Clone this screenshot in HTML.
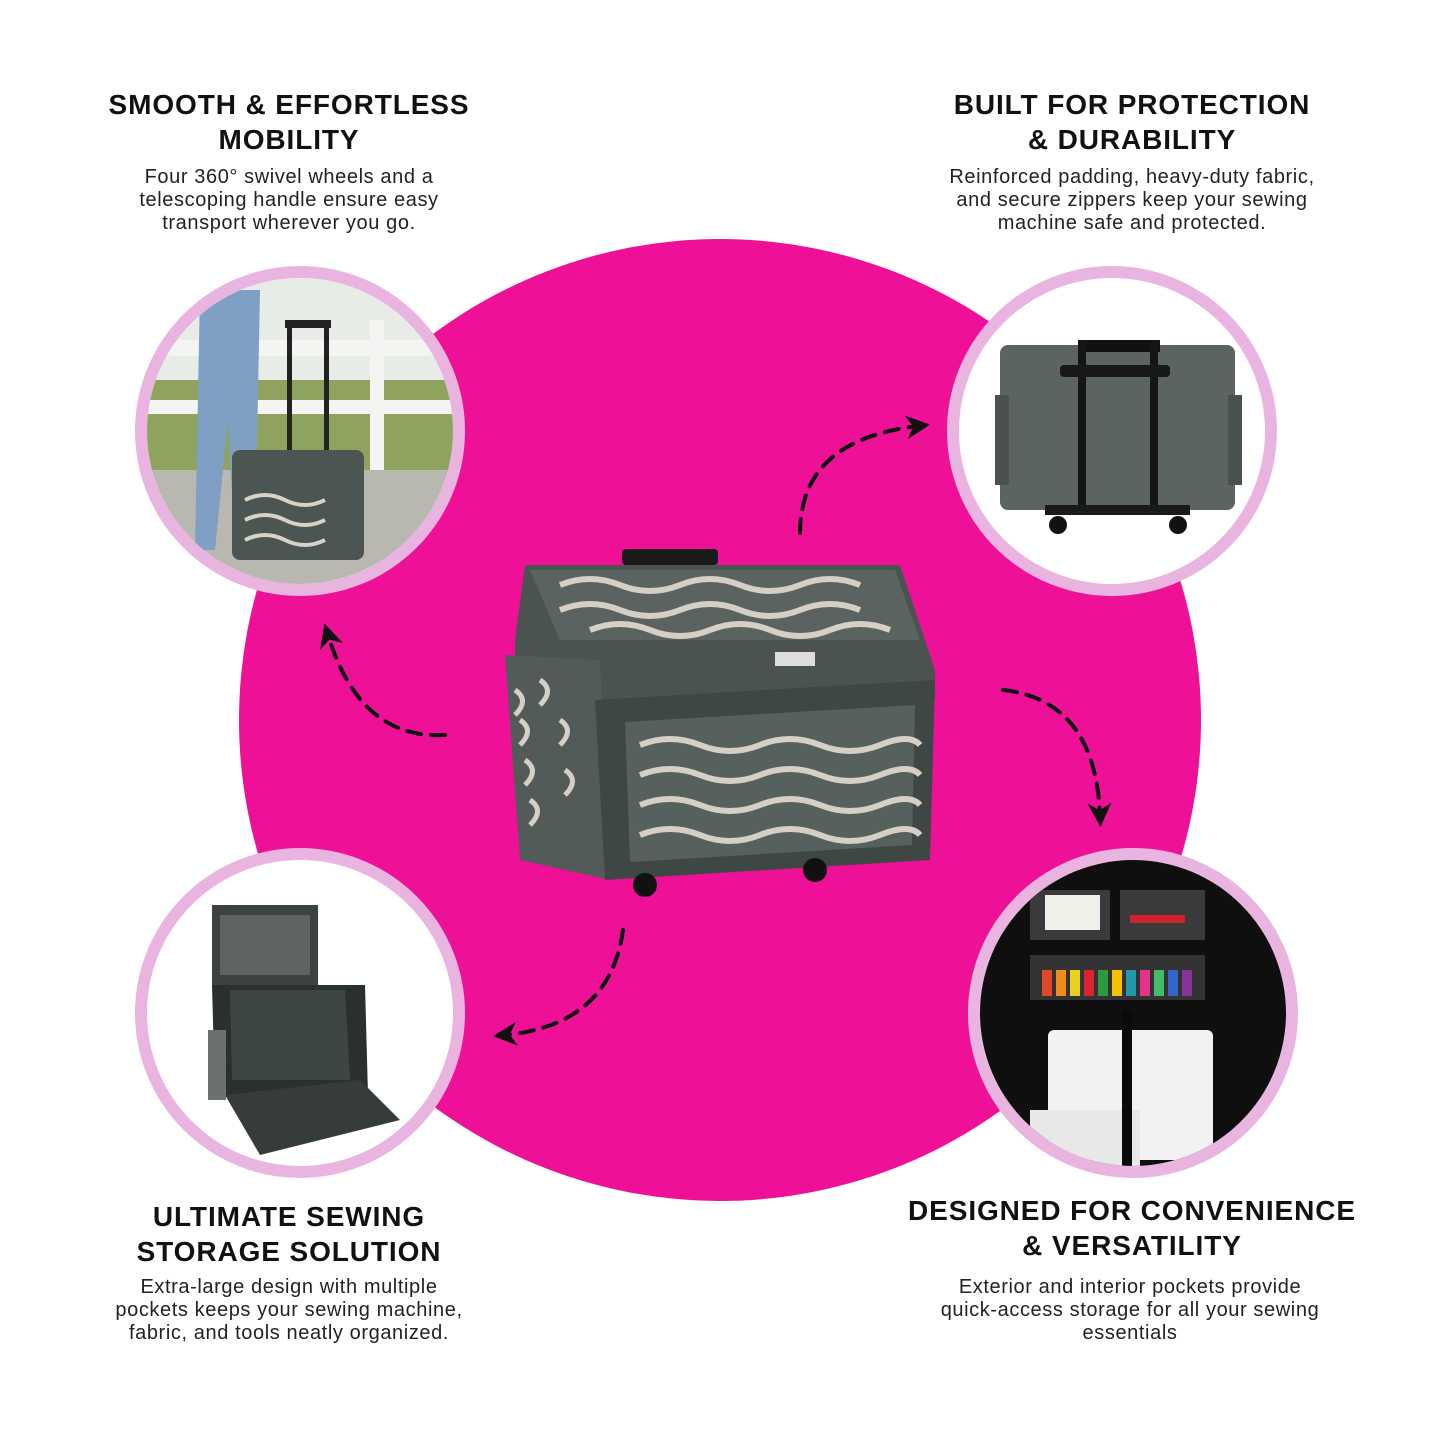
<!DOCTYPE html>
<html><head><meta charset="utf-8"><style>
html,body{margin:0;padding:0;background:#fff;}
body{width:1440px;height:1440px;position:relative;overflow:hidden;font-family:"Liberation Sans",sans-serif;color:#111;}
.h{position:absolute;text-align:center;font-weight:bold;font-size:28px;line-height:35px;letter-spacing:0.9px;}
.p{position:absolute;text-align:center;font-size:20px;line-height:23px;color:#222;letter-spacing:0.6px;}
</style></head><body>
<svg width="1440" height="1440" style="position:absolute;left:0;top:0">
<defs>
<clipPath id="c1"><circle cx="300" cy="431" r="153"/></clipPath>
<clipPath id="c2"><circle cx="1112" cy="431" r="153"/></clipPath>
<clipPath id="c3"><circle cx="300" cy="1013" r="153"/></clipPath>
<clipPath id="c4"><circle cx="1133" cy="1013" r="153"/></clipPath>
<marker id="ar" markerWidth="24" markerHeight="24" refX="5" refY="5" orient="auto" markerUnits="userSpaceOnUse" viewBox="0 0 10 10"><path d="M0,0 L10,5 L0,10 L3,5 z" fill="#111"/></marker>
</defs>
<circle cx="720" cy="720" r="481" fill="#ee1197"/>
<circle cx="300" cy="431" r="159" fill="#fff" stroke="#e9b5e0" stroke-width="12"/>
<g clip-path="url(#c1)">
<rect x="140" y="270" width="320" height="330" fill="#e8ece6"/>
<rect x="140" y="380" width="320" height="90" fill="#8ea35e"/>
<rect x="140" y="340" width="320" height="16" fill="#f4f4f2"/>
<rect x="140" y="400" width="320" height="14" fill="#f4f4f2"/>
<rect x="370" y="320" width="14" height="150" fill="#f4f4f2"/>
<rect x="140" y="470" width="320" height="130" fill="#b9b8b0"/>
<path d="M200 290 L260 290 L255 550 L235 550 L228 420 L215 550 L195 550 Z" fill="#7f9fc4"/>
<rect x="287" y="325" width="5" height="130" fill="#222"/><rect x="324" y="325" width="5" height="130" fill="#222"/>
<rect x="285" y="320" width="46" height="8" fill="#222"/>
<rect x="232" y="450" width="132" height="110" rx="8" fill="#4b5552"/>
<path d="M245 500 q20 -10 40 0 t40 0 M245 520 q20 -10 40 0 t40 0 M245 540 q20 -10 40 0 t40 0" stroke="#d8d2c8" stroke-width="4" fill="none"/>
</g>
<circle cx="1112" cy="431" r="159" fill="#fff" stroke="#e9b5e0" stroke-width="12"/>
<g clip-path="url(#c2)">
<rect x="1000" y="345" width="235" height="165" rx="8" fill="#5b6461"/>
<rect x="995" y="395" width="14" height="90" fill="#4a514f"/><rect x="1228" y="395" width="14" height="90" fill="#4a514f"/>
<rect x="1080" y="340" width="80" height="12" fill="#111"/>
<rect x="1078" y="340" width="8" height="170" fill="#151515"/><rect x="1150" y="340" width="8" height="170" fill="#151515"/>
<rect x="1060" y="365" width="110" height="12" rx="4" fill="#181818"/>
<rect x="1045" y="505" width="145" height="10" fill="#1a1a1a"/>
<circle cx="1058" cy="525" r="9" fill="#111"/><circle cx="1178" cy="525" r="9" fill="#111"/>
</g>
<circle cx="300" cy="1013" r="159" fill="#fff" stroke="#e9b5e0" stroke-width="12"/>
<g clip-path="url(#c3)">
<path d="M212 905 L318 905 L318 985 L212 985 Z" fill="#3b423f"/>
<path d="M220 915 L310 915 L310 975 L220 975 Z" fill="#6d7472" opacity="0.7"/>
<path d="M212 985 L365 985 L368 1095 L215 1095 Z" fill="#2a302e"/>
<path d="M230 990 L345 990 L350 1080 L232 1080 Z" fill="#3e4643"/>
<path d="M225 1095 L360 1080 L400 1120 L260 1155 Z" fill="#353c39"/>
<rect x="208" y="1030" width="18" height="70" fill="#6b7170"/>
</g>
<circle cx="1133" cy="1013" r="159" fill="#fff" stroke="#e9b5e0" stroke-width="12"/>
<g clip-path="url(#c4)">
<rect x="975" y="855" width="320" height="320" fill="#0f0f0f"/>
<rect x="1030" y="890" width="80" height="50" fill="#3a3a3a"/>
<rect x="1045" y="895" width="55" height="35" fill="#f0efe8"/>
<rect x="1120" y="890" width="85" height="50" fill="#3a3a3a"/>
<rect x="1130" y="915" width="55" height="8" fill="#d2232a"/>
<rect x="1030" y="955" width="175" height="45" fill="#333"/>
<g>
<rect x="1042" y="970" width="10" height="26" fill="#e04a2a"/><rect x="1056" y="970" width="10" height="26" fill="#f08a1a"/>
<rect x="1070" y="970" width="10" height="26" fill="#e8d020"/><rect x="1084" y="970" width="10" height="26" fill="#d23"/>
<rect x="1098" y="970" width="10" height="26" fill="#2a9a3a"/><rect x="1112" y="970" width="10" height="26" fill="#f5c000"/>
<rect x="1126" y="970" width="10" height="26" fill="#29a"/><rect x="1140" y="970" width="10" height="26" fill="#e3368a"/>
<rect x="1154" y="970" width="10" height="26" fill="#4b6"/><rect x="1168" y="970" width="10" height="26" fill="#36c"/>
<rect x="1182" y="970" width="10" height="26" fill="#839"/>
</g>
<rect x="1048" y="1030" width="165" height="130" rx="6" fill="#f2f2f2"/>
<rect x="1030" y="1110" width="110" height="60" fill="#e8e8e8"/>
<rect x="1122" y="1010" width="10" height="160" fill="#0a0a0a"/>
</g>
<rect x="622" y="549" width="96" height="16" rx="4" fill="#1a1a1a"/>
<path d="M525 565 L900 565 L935 670 L935 700 L515 700 L515 640 Z" fill="#4a5350"/>
<path d="M530 570 L895 570 L920 640 L560 640 Z" fill="#5a6360"/>
<path d="M560 585 q30 -12 60 0 t60 0 t60 0 t60 0 t60 0 M560 610 q30 -12 60 0 t60 0 t60 0 t60 0 t60 0 M590 630 q30 -12 60 0 t60 0 t60 0 t60 0 t60 0" stroke="#d5cfc5" stroke-width="6" fill="none"/>
<path d="M505 655 L600 660 L610 880 L520 860 Z" fill="#525b58"/>
<path d="M515 690 q15 10 0 25 M520 720 q15 10 0 25 M525 760 q15 10 0 25 M530 800 q15 10 0 25 M540 680 q15 10 0 25 M560 720 q15 10 0 25 M565 770 q15 10 0 25" stroke="#d5cfc5" stroke-width="5" fill="none"/>
<path d="M595 700 L935 680 L930 860 L605 880 Z" fill="#3e4744"/>
<path d="M625 722 L915 705 L912 845 L630 862 Z" fill="#56605d"/>
<path d="M640 745 q30 -12 60 0 t60 0 t60 0 t60 0 t40 0 M640 775 q30 -12 60 0 t60 0 t60 0 t60 0 t40 0 M640 805 q30 -12 60 0 t60 0 t60 0 t60 0 t40 0 M640 835 q30 -12 60 0 t60 0 t60 0 t60 0 t40 0" stroke="#d5cfc5" stroke-width="6" fill="none"/>
<rect x="775" y="652" width="40" height="14" fill="#ddd"/>
<circle cx="645" cy="885" r="12" fill="#111"/><circle cx="815" cy="870" r="12" fill="#111"/>
<g stroke="#111" stroke-width="4" stroke-dasharray="14 10" fill="none" stroke-linecap="round">
<path d="M445 735 Q360 740 328 635" marker-end="url(#ar)"/>
<path d="M800 533 Q800 440 918 426" marker-end="url(#ar)"/>
<path d="M1003 690 Q1095 700 1100 815" marker-end="url(#ar)"/>
<path d="M623 930 Q610 1025 505 1035" marker-end="url(#ar)"/>
</g>
</svg>
<div class="h" style="left:40px;width:498px;top:87px">SMOOTH &amp; EFFORTLESS<br>MOBILITY</div>
<div class="p" style="left:40px;width:498px;top:166px">Four 360° swivel wheels and a<br>telescoping handle ensure easy<br>transport wherever you go.</div>
<div class="h" style="left:880px;width:504px;top:87px">BUILT FOR PROTECTION<br>&amp; DURABILITY</div>
<div class="p" style="left:880px;width:504px;top:166px">Reinforced padding, heavy-duty fabric,<br>and secure zippers keep your sewing<br>machine safe and protected.</div>
<div class="h" style="left:40px;width:498px;top:1199px">ULTIMATE SEWING<br>STORAGE SOLUTION</div>
<div class="p" style="left:40px;width:498px;top:1276px">Extra-large design with multiple<br>pockets keeps your sewing machine,<br>fabric, and tools neatly organized.</div>
<div class="h" style="left:860px;width:544px;top:1193px">DESIGNED FOR CONVENIENCE<br>&amp; VERSATILITY</div>
<div class="p" style="left:860px;width:540px;top:1276px">Exterior and interior pockets provide<br>quick-access storage for all your sewing<br>essentials</div>
</body></html>
